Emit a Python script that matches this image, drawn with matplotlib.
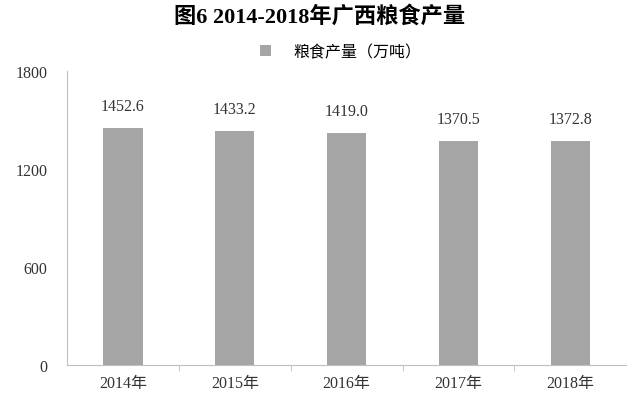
import matplotlib.pyplot as plt

years = ["2014年", "2015年", "2016年", "2017年", "2018年"]
output = [1452.6, 1433.2, 1419.0, 1370.5, 1372.8]
yticks = [0, 600, 1200, 1800]

plt.rcParams['font.family'] = ['Liberation Serif', 'Noto Sans CJK SC']

fig = plt.figure(figsize=(6.39, 4.02), dpi=100)
ax = fig.add_axes([0.105, 0.09, 0.875, 0.731])

x = range(len(years))
bars = ax.bar(x, output, width=0.35, color='#a5a5a5', label='粮食产量（万吨）')
for xi, v in zip(x, output):
    ax.text(xi, v + 85, f"{v:.1f}", ha='center', va='bottom', fontsize=11.5, color='#333333')

ax.set_xlim(-0.5, len(years) - 0.5)
ax.set_ylim(0, 1800)
ax.set_yticks(yticks)
ax.set_yticklabels([str(t) for t in yticks], fontsize=11.5, color='#333333')
ax.set_xticks(list(x))
ax.set_xticklabels(years, fontsize=11.5, color='#333333')
ax.set_xticks([i + 0.5 for i in range(len(years) - 1)], minor=True)

for s in ['top', 'right']:
    ax.spines[s].set_visible(False)
for s in ['left', 'bottom']:
    ax.spines[s].set_color('#bfbfbf')
    ax.spines[s].set_linewidth(0.8)
ax.tick_params(axis='x', which='major', length=0, pad=7)
ax.tick_params(axis='x', which='minor', length=4, color='#bfbfbf', direction='out')
ax.tick_params(axis='y', length=0, pad=14)

ax.legend(loc='upper center', bbox_to_anchor=(0.49, 1.14), frameon=False,
          fontsize=11.5, handlelength=0.7, handleheight=0.7, handletextpad=1.4)

fig.suptitle("图6 2014-2018年广西粮食产量", y=0.985, fontsize=16, fontweight='bold')

fig.savefig("out.png", dpi=100)
